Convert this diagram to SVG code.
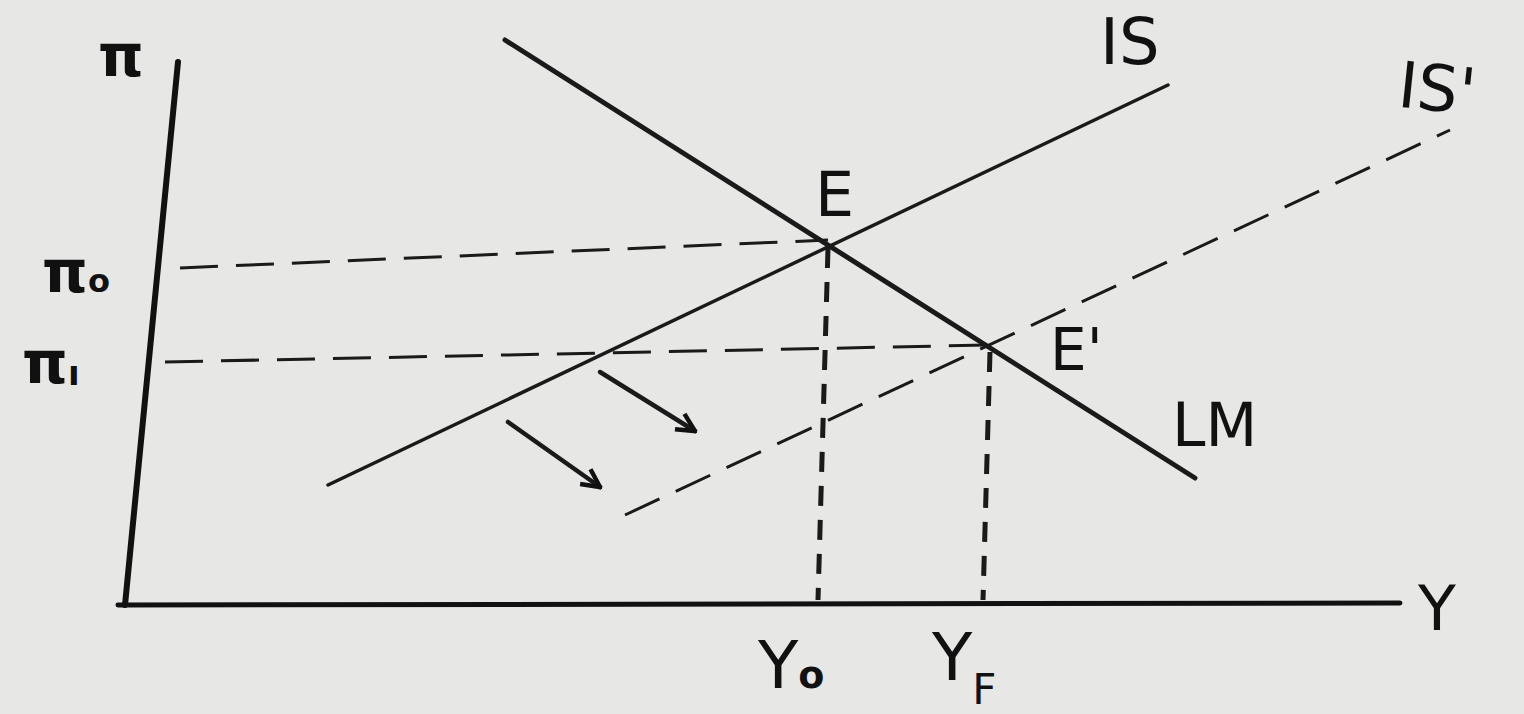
<svg xmlns="http://www.w3.org/2000/svg" width="1524" height="714" viewBox="0 0 1524 714">
<defs>
<marker id="ah" viewBox="0 0 10 10" refX="9" refY="5" markerWidth="5" markerHeight="5" orient="auto" markerUnits="strokeWidth">
<path d="M1,1 L9,5 L1,9" fill="none" stroke="#111" stroke-width="2"/>
</marker>
</defs>
<style>
.t{font-family:"DejaVu Sans","Liberation Sans",sans-serif;fill:#111}
.b{font-weight:bold}
.ax{stroke:#111;stroke-linecap:round;fill:none}
.cur{stroke:#1a1a1a;fill:none;stroke-linecap:round}
.dash{stroke:#1a1a1a;fill:none;stroke-width:3;stroke-dasharray:38 18}
.vd{stroke:#1a1a1a;fill:none;stroke-width:5;stroke-dasharray:20 14}
</style>
<rect width="1524" height="714" fill="#e7e7e5"/>
<g id="axes">
<line class="ax" x1="178" y1="62" x2="125" y2="605" stroke-width="6"/>
<line class="ax" x1="118" y1="605" x2="1400" y2="603" stroke-width="5"/>
</g>
<g id="connectors">
<line class="dash" x1="180" y1="268" x2="828" y2="240"/>
<line class="dash" x1="165" y1="362" x2="990" y2="345"/>
<line class="vd" x1="828" y1="248" x2="818" y2="600"/>
<line class="vd" x1="990" y1="352" x2="983" y2="600"/>
<line class="dash" x1="625" y1="515" x2="1450" y2="130" stroke-width="3.5"/>
<line class="cur" x1="328" y1="485" x2="1168" y2="85" stroke-width="3.5"/>
<line class="cur" x1="505" y1="40" x2="1195" y2="478" stroke-width="5"/>
<line class="cur" x1="600" y1="372" x2="695" y2="431" stroke-width="4.5" marker-end="url(#ah)"/>
<line class="cur" x1="508" y1="422" x2="600" y2="487" stroke-width="4.5" marker-end="url(#ah)"/>
</g>
<g id="labels">
<text class="t b" x="98" y="76" font-size="58">π</text>
<text class="t b" x="42" y="292" font-size="58">π<tspan font-size="32">o</tspan></text>
<text class="t b" x="22" y="383" font-size="58">π<tspan font-size="34" dy="2">ı</tspan></text>
<text class="t" x="1100" y="64" font-size="64">IS</text>
<text class="t" x="1398" y="112" font-size="64" transform="rotate(6 1450 95)">IS'</text>
<text class="t" x="815" y="216" font-size="62">E</text>
<text class="t" x="1050" y="370" font-size="58">E'</text>
<text class="t" x="1172" y="446" font-size="60">LM</text>
<text class="t" x="1418" y="630" font-size="62">Y</text>
<text class="t" x="758" y="688" font-size="66">Y<tspan class="b" font-size="38">o</tspan></text>
<text class="t" x="932" y="680" font-size="66">Y<tspan font-size="42" dy="24">F</tspan></text>
</g>
</svg>
